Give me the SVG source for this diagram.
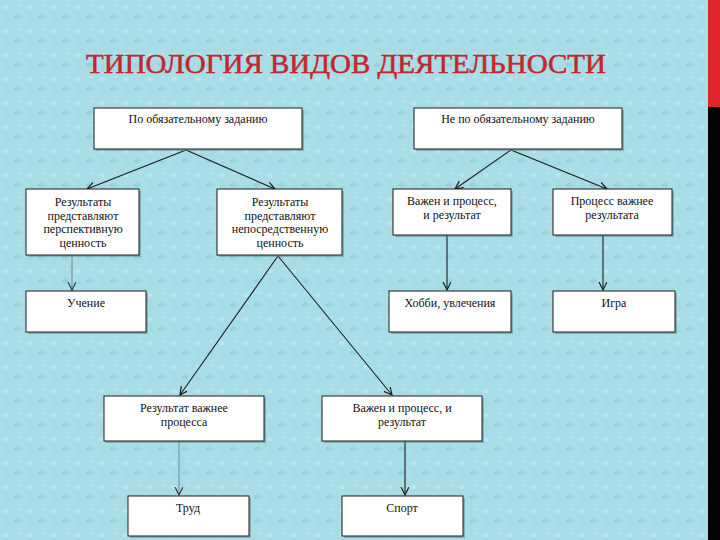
<svg xmlns="http://www.w3.org/2000/svg" width="720" height="540" viewBox="0 0 720 540" font-family="Liberation Serif, Times New Roman, DejaVu Serif, serif">
<defs>
<style>
.box{fill:#ffffff;stroke:#1a1a1a;stroke-width:1}
.sh{fill:#5f8a92;opacity:0.55}
.t{font-size:12px;fill:#111;text-anchor:middle}
.ttl{font-size:27px;fill:#c3262c;text-anchor:middle}
.c{stroke:#1c1c1c;stroke-width:1.1;fill:none;marker-end:url(#arr)}
.cl{stroke:#6f8e96;stroke-width:1;fill:none;marker-end:url(#arr2)}
</style>
<marker id="arr" markerUnits="userSpaceOnUse" markerWidth="10" markerHeight="10" refX="8" refY="4" orient="auto">
<path d="M0,0 L8,4 L0,8" fill="none" stroke="#1c1c1c" stroke-width="1.2"/>
</marker>
<marker id="arr2" markerUnits="userSpaceOnUse" markerWidth="10" markerHeight="10" refX="8" refY="4" orient="auto">
<path d="M0,0 L8,4 L0,8" fill="none" stroke="#2a3a40" stroke-width="1.2"/>
</marker>
<pattern id="tex" width="24" height="24" patternUnits="userSpaceOnUse">
<rect width="24" height="24" fill="#a8dce6"/>
<ellipse cx="6" cy="7" rx="3" ry="2" fill="#c4eaf0" opacity="0.7"/>
<ellipse cx="17" cy="17" rx="3.5" ry="2.2" fill="#8fcbd6" opacity="0.6"/>
<ellipse cx="19" cy="5" rx="2" ry="1.5" fill="#bfe7ee" opacity="0.6"/>
<ellipse cx="7" cy="19" rx="2" ry="1.4" fill="#95ced9" opacity="0.5"/>
</pattern>
</defs>
<rect width="720" height="540" fill="url(#tex)"/>
<rect x="708" y="0" width="12" height="107" fill="#e0262a"/>
<rect x="708" y="107" width="12" height="433" fill="#050505"/>
<text class="ttl" x="346" y="73" stroke="#c3262c" stroke-width="0.5" textLength="520" lengthAdjust="spacingAndGlyphs">ТИПОЛОГИЯ ВИДОВ ДЕЯТЕЛЬНОСТИ</text>

<g id="connectors">
<line class="c" x1="186" y1="150" x2="87" y2="189"/>
<line class="c" x1="186" y1="150" x2="275" y2="189"/>
<line class="c" x1="511" y1="150" x2="455" y2="189"/>
<line class="c" x1="511" y1="150" x2="607" y2="189"/>
<line class="cl" x1="72" y1="255" x2="72" y2="290"/>
<line class="c" x1="278" y1="256" x2="180" y2="395"/>
<line class="c" x1="278" y1="256" x2="392" y2="395"/>
<line class="c" x1="447" y1="235" x2="447" y2="290"/>
<line class="c" x1="603" y1="235" x2="603" y2="290"/>
<line class="cl" x1="179" y1="441" x2="179" y2="495"/>
<line class="c" x1="405" y1="441" x2="405" y2="495"/>
</g>

<g id="n1"><rect class="sh" x="96" y="110" width="208" height="41"/><rect class="box" x="94" y="108" width="208" height="41"/><text class="t" x="198" y="123">По обязательному заданию</text></g>
<g id="n2"><rect class="sh" x="416" y="110" width="208" height="41"/><rect class="box" x="414" y="108" width="208" height="41"/><text class="t" x="518" y="123">Не по обязательному заданию</text></g>
<g id="n3"><rect class="sh" x="28" y="191" width="113" height="66"/><rect class="box" x="26" y="189" width="113" height="66"/><text class="t" x="83" y="206">Результаты</text><text class="t" x="83" y="219.5">представляют</text><text class="t" x="83" y="233">перспективную</text><text class="t" x="83" y="246.5">ценность</text></g>
<g id="n4"><rect class="sh" x="219" y="191" width="125" height="66"/><rect class="box" x="217" y="189" width="125" height="66"/><text class="t" x="280" y="206">Результаты</text><text class="t" x="280" y="219.5">представляют</text><text class="t" x="280" y="233">непосредственную</text><text class="t" x="280" y="246.5">ценность</text></g>
<g id="n5"><rect class="sh" x="395" y="191" width="118" height="46"/><rect class="box" x="393" y="189" width="118" height="46"/><text class="t" x="452" y="205">Важен и процесс,</text><text class="t" x="452" y="219">и результат</text></g>
<g id="n6"><rect class="sh" x="555" y="191" width="119" height="46"/><rect class="box" x="553" y="189" width="119" height="46"/><text class="t" x="612" y="205">Процесс важнее</text><text class="t" x="612" y="219">результата</text></g>
<g id="n7"><rect class="sh" x="28" y="293" width="120" height="41"/><rect class="box" x="26" y="291" width="120" height="41"/><text class="t" x="86" y="307">Учение</text></g>
<g id="n8"><rect class="sh" x="391" y="293" width="122" height="41"/><rect class="box" x="389" y="291" width="122" height="41"/><text class="t" x="450" y="307">Хобби, увлечения</text></g>
<g id="n9"><rect class="sh" x="555" y="293" width="122" height="41"/><rect class="box" x="553" y="291" width="122" height="41"/><text class="t" x="614" y="307">Игра</text></g>
<g id="n10"><rect class="sh" x="106" y="398" width="160" height="45"/><rect class="box" x="104" y="396" width="160" height="45"/><text class="t" x="184" y="412">Результат важнее</text><text class="t" x="184" y="426">процесса</text></g>
<g id="n11"><rect class="sh" x="324" y="398" width="160" height="45"/><rect class="box" x="322" y="396" width="160" height="45"/><text class="t" x="402" y="412">Важен и процесс, и</text><text class="t" x="402" y="426">результат</text></g>
<g id="n12"><rect class="sh" x="130" y="498" width="121" height="40"/><rect class="box" x="128" y="496" width="121" height="40"/><text class="t" x="188" y="512">Труд</text></g>
<g id="n13"><rect class="sh" x="344" y="498" width="121" height="40"/><rect class="box" x="342" y="496" width="121" height="40"/><text class="t" x="402" y="512">Спорт</text></g>
</svg>
